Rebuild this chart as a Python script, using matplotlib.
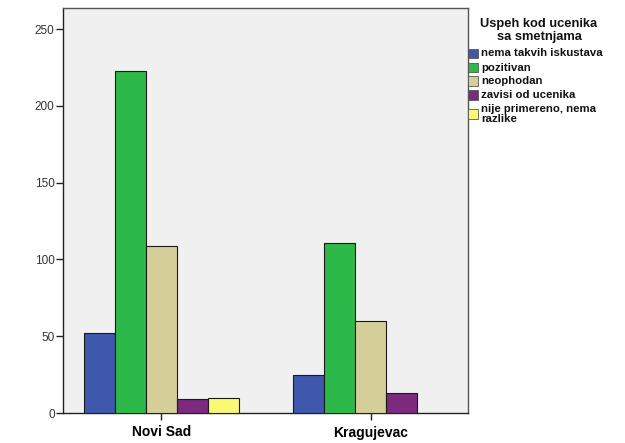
import matplotlib
matplotlib.use("Agg")
import matplotlib.pyplot as plt
from matplotlib.patches import Rectangle
import numpy as np

plt.rcParams['font.family'] = ['Liberation Sans', 'DejaVu Sans']

categories = ["Novi Sad", "Kragujevac"]
series = ["nema takvih iskustava", "pozitivan", "neophodan", "zavisi od ucenika",
          "nije primereno, nema\nrazlike"]
values = {
    "nema takvih iskustava": [52, 25],
    "pozitivan": [223, 111],
    "neophodan": [109, 60],
    "zavisi od ucenika": [9, 13],
    "nije primereno, nema\nrazlike": [10, 0],
}
colors = ["#3E58AC", "#2DB84A", "#D4CE98", "#7B2A7E", "#FBF873"]
yticks = [0, 50, 100, 150, 200, 250]
legend_title = "Uspeh kod ucenika\nsa smetnjama"

W, H = 625, 443
fig = plt.figure(figsize=(W/100, H/100), dpi=100)
ax = fig.add_axes([63/W, 30/H, (468-63)/W, (413-8)/H])
ax.set_facecolor("#F0F0F0")

x = np.arange(len(categories))
w = 31/209.5
n = len(series)
for i, (s, c) in enumerate(zip(series, colors)):
    vals = values[s]
    pos = x + (i - (n-1)/2) * w
    mask = [v > 0 for v in vals]
    ax.bar(pos[mask], np.array(vals)[mask], width=w, color=c, edgecolor="#1a1a1a",
           linewidth=0.8, label=s, zorder=3)

ax.set_xlim(-0.47, 1.463)
ax.set_ylim(0, 263.7)
ax.set_yticks(yticks)
ax.set_yticklabels([str(t) for t in yticks], fontsize=8.5, color="#333333")
ax.set_xticks(x)
ax.set_xticklabels(categories, fontsize=10, fontweight="bold")
ax.tick_params(axis="y", length=5, width=1, color="#222222", direction="out", pad=1)
ax.tick_params(axis="x", length=5, width=1, color="#222222", direction="out", pad=4)
for sp in ax.spines.values():
    sp.set_color("#555555")
    sp.set_linewidth(1)
ax.spines["left"].set_color("#222222")
ax.spines["bottom"].set_color("#222222")

# Legend drawn manually in figure pixel coordinates
def fy(py):
    return 1 - py / H

fig.text(539/W, fy(18), legend_title, ha="center", va="top", fontsize=9.3,
         fontweight="bold", linespacing=1.15, color="#111111")
centers = [53.3, 67.5, 81, 95, 114]
for s, c, cy in zip(series, colors, centers):
    fig.patches.append(Rectangle((468/W, fy(cy + 4.5)), 10/W, 9/H, transform=fig.transFigure,
                                 facecolor=c, edgecolor="#555555", linewidth=0.6))
    fig.text(481/W, fy(cy), s, ha="left", va="center", fontsize=8.2,
             fontweight="bold", linespacing=0.9, color="#111111")

fig.savefig("out.png", dpi=100)
